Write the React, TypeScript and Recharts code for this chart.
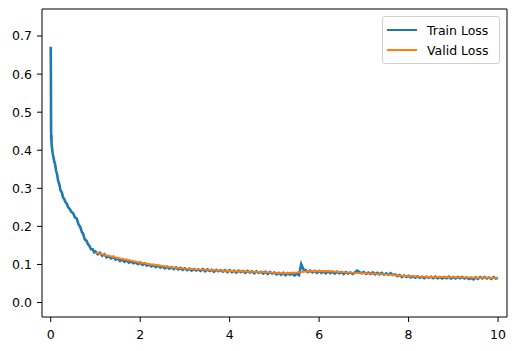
import { LineChart, Line, XAxis, YAxis, Legend, ReferenceLine } from "recharts";

// training loss, dense early part (x, y)
const trainEarlyX = [
  0, 0.004, 0.008, 0.012, 0.016, 0.02, 0.03, 0.04, 0.05, 0.06, 0.08, 0.1, 0.12, 0.14, 0.165, 0.19,
  0.22, 0.25, 0.275, 0.3, 0.33, 0.36, 0.39, 0.425, 0.46, 0.5, 0.54, 0.58, 0.62, 0.66, 0.7, 0.72,
  0.76, 0.8, 0.834, 0.87, 0.9, 0.94, 0.97,
];
const trainEarlyY = [
  0.672, 0.6, 0.45, 0.425, 0.44, 0.415, 0.405, 0.395, 0.388, 0.382, 0.37, 0.362, 0.346, 0.338,
  0.32, 0.312, 0.294, 0.289, 0.276, 0.272, 0.264, 0.26, 0.25, 0.246, 0.238, 0.235, 0.224, 0.221,
  0.206, 0.198, 0.184, 0.182, 0.166, 0.162, 0.153, 0.148, 0.14, 0.14, 0.132,
];

// training loss from epoch 1 to 10, every 0.05 epoch
const trainLateStart = 1;
const trainLateStep = 0.05;
const trainLateY = [
  0.134, 0.127, 0.131, 0.123, 0.127, 0.119, 0.122, 0.116, 0.12, 0.113, 0.116, 0.109, 0.113, 0.107, 0.111, 0.105, 0.108, 0.103, 0.106, 0.101,
  0.105, 0.099, 0.103, 0.097, 0.1, 0.095, 0.099, 0.093, 0.097, 0.092, 0.095, 0.09, 0.094, 0.089, 0.093, 0.088, 0.092, 0.087, 0.091, 0.086,
  0.09, 0.085, 0.089, 0.084, 0.088, 0.084, 0.087, 0.083, 0.088, 0.082, 0.087, 0.083, 0.086, 0.081, 0.086, 0.082, 0.085, 0.081, 0.085, 0.08,
  0.085, 0.08, 0.084, 0.079, 0.084, 0.08, 0.083, 0.078, 0.083, 0.079, 0.082, 0.077, 0.082, 0.078, 0.081, 0.076, 0.081, 0.075, 0.08, 0.076,
  0.079, 0.074, 0.078, 0.073, 0.078, 0.072, 0.077, 0.073, 0.077, 0.071, 0.076, 0.072, 0.101, 0.087, 0.085, 0.08, 0.084, 0.079, 0.083, 0.078,
  0.083, 0.078, 0.082, 0.077, 0.082, 0.077, 0.081, 0.076, 0.081, 0.077, 0.08, 0.075, 0.08, 0.076, 0.079, 0.075, 0.079, 0.084, 0.08, 0.077,
  0.08, 0.075, 0.079, 0.075, 0.079, 0.074, 0.078, 0.074, 0.078, 0.073, 0.077, 0.073, 0.077, 0.072, 0.074, 0.069, 0.072, 0.067, 0.071, 0.067,
  0.07, 0.066, 0.069, 0.065, 0.069, 0.065, 0.068, 0.064, 0.068, 0.065, 0.068, 0.064, 0.068, 0.064, 0.067, 0.063, 0.067, 0.064, 0.068, 0.063,
  0.067, 0.063, 0.067, 0.064, 0.067, 0.063, 0.066, 0.062, 0.065, 0.061, 0.066, 0.062, 0.067, 0.063, 0.067, 0.063, 0.066, 0.062, 0.067, 0.063,
  0.065,
];

// validation loss
const validX = [
  1, 1.25, 1.5, 1.75, 2, 2.25, 2.5, 2.75, 3, 3.25, 3.5, 3.75, 4, 4.25, 4.5, 4.75, 5, 5.25, 5.5,
  5.75, 6, 6.25, 6.5, 6.75, 7, 7.25, 7.5, 7.75, 8, 8.25, 8.5, 8.75, 9, 9.25, 9.5, 9.75, 10,
];
const validY = [
  0.131, 0.124, 0.117, 0.111, 0.105, 0.1, 0.096, 0.092, 0.089, 0.087, 0.086, 0.084, 0.083, 0.082,
  0.081, 0.08, 0.078, 0.077, 0.079, 0.082, 0.083, 0.082, 0.08, 0.078, 0.077, 0.076, 0.074, 0.071,
  0.069, 0.068, 0.067, 0.067, 0.066, 0.066, 0.065, 0.065, 0.064,
];

const xTicks = [0, 2, 4, 6, 8, 10];
const yTicks = [0, 0.1, 0.2, 0.3, 0.4, 0.5, 0.6, 0.7];

const X_DOMAIN: [number, number] = [-0.195, 10.2];
const Y_DOMAIN: [number, number] = [-0.038, 0.771];

const BLUE = "#1f77b4";
const ORANGE = "#ff7f0e";
const FONT = "'DejaVu Sans', sans-serif";

const trainData = [
  ...trainEarlyX.map((x, i) => ({ x, y: trainEarlyY[i] })),
  ...trainLateY.map((y, i) => ({ x: trainLateStart + i * trainLateStep, y })),
];
const validData = validX.map((x, i) => ({ x, y: validY[i] }));

const tickStyle = { fontSize: 12.5, fill: "#000", fontFamily: FONT };
const axisLine = { stroke: "#000", strokeWidth: 1 };

function LegendBox() {
  const rows = [
    { label: "Train Loss", color: BLUE },
    { label: "Valid Loss", color: ORANGE },
  ];
  return (
    <div
      style={{
        border: "1px solid #d0d0d0",
        borderRadius: 3,
        background: "rgba(255,255,255,0.8)",
        padding: "3px 8px 3px 4px",
        fontFamily: FONT,
        fontSize: 12.5,
        color: "#000",
        width: 104,
      }}
    >
      {rows.map((r) => (
        <div key={r.label} style={{ display: "flex", alignItems: "center", height: 20 }}>
          <span style={{ width: 30, height: 2, background: r.color, marginRight: 10 }} />
          <span>{r.label}</span>
        </div>
      ))}
    </div>
  );
}

export default function App() {
  return (
    <div style={{ position: "absolute", left: 0, top: 0, background: "#fff" }}>
      <LineChart width={516} height={351} margin={{ top: 9, right: 9, left: 0, bottom: 0 }}>
        <XAxis
          dataKey="x"
          type="number"
          domain={X_DOMAIN}
          ticks={xTicks}
          allowDataOverflow
          height={34}
          tick={tickStyle}
          tickSize={5}
          tickMargin={8}
          tickLine={{ stroke: "#000" }}
          axisLine={axisLine}
        />
        <YAxis
          type="number"
          domain={Y_DOMAIN}
          ticks={yTicks}
          allowDataOverflow
          width={42}
          tick={tickStyle}
          tickSize={5}
          tickMargin={5}
          tickLine={{ stroke: "#000" }}
          axisLine={axisLine}
          tickFormatter={(v: number) => v.toFixed(1)}
        />
        {/* top and right spines */}
        <ReferenceLine y={Y_DOMAIN[1]} stroke="#000" strokeWidth={1} ifOverflow="visible" />
        <ReferenceLine x={X_DOMAIN[1]} stroke="#000" strokeWidth={1} ifOverflow="visible" />
        <Legend
          layout="vertical"
          align="center"
          verticalAlign="middle"
          wrapperStyle={{ top: 16, left: 382, width: "auto" }}
          content={() => <LegendBox />}
        />
        <Line
          data={trainData}
          dataKey="y"
          name="Train Loss"
          stroke={BLUE}
          strokeWidth={2.6}
          dot={false}
          isAnimationActive={false}
        />
        <Line
          data={validData}
          dataKey="y"
          name="Valid Loss"
          stroke={ORANGE}
          strokeWidth={1.9}
          dot={false}
          isAnimationActive={false}
        />
      </LineChart>
    </div>
  );
}
